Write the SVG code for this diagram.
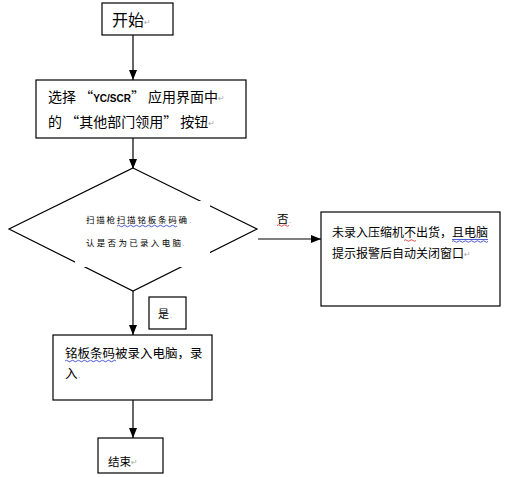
<svg xmlns="http://www.w3.org/2000/svg" width="510" height="477" viewBox="0 0 510 477">
<style>
.box{fill:#fff;stroke:#000;stroke-width:1.2}
.t{font-family:"Noto Sans CJK SC","Liberation Sans",sans-serif;fill:#000}
.pm{font-family:"DejaVu Sans",sans-serif;fill:#aaa;font-size:8px}
.edge{stroke:#000;stroke-width:1.2;fill:none}
.wr{stroke:#d22;stroke-width:0.8;fill:none}
.wb{stroke:#23c;stroke-width:0.8;fill:none}
</style>
<defs>
<marker id="ah" markerUnits="userSpaceOnUse" markerWidth="10" markerHeight="8" refX="10" refY="4" orient="auto">
<path d="M0,0 L10,4 L0,8 z" fill="#000"/>
</marker>
</defs>
<rect width="510" height="477" fill="#fff"/>
<g id="connectors">
<line class="edge" x1="133" y1="35" x2="133" y2="80" marker-end="url(#ah)"/>
<line class="edge" x1="133" y1="138" x2="133" y2="169" marker-end="url(#ah)"/>
<line class="edge" x1="258" y1="239" x2="321" y2="239" marker-end="url(#ah)"/>
<line class="edge" x1="133" y1="291" x2="133" y2="335" marker-end="url(#ah)"/>
<line class="edge" x1="133" y1="400" x2="133" y2="438" marker-end="url(#ah)"/>
</g>
<g id="start">
<rect class="box" x="102" y="3" width="71" height="32"/>
<text class="t" x="112" y="26" font-size="16">开始<tspan class="pm" dy="-1">↵</tspan></text>
</g>
<g id="select">
<rect class="box" x="36" y="80" width="210" height="58"/>
<text class="t" x="48" y="102" font-size="14">选择 “<tspan font-family="Liberation Sans,sans-serif" font-weight="bold" font-size="10">YC/SCR</tspan>” 应用界面中<tspan class="pm" dy="-1">↵</tspan></text>
<text class="t" x="48" y="127" font-size="14">的 “其他部门领用” 按钮<tspan class="pm" dy="-1">↵</tspan></text>
</g>
<g id="decision">
<polygon points="133,168 257,229 133,291 9,229" fill="#fff" stroke="#000" stroke-width="1.2"/>
<rect x="75" y="201" width="135" height="66" fill="#fff"/>
<text class="t" x="86" y="223" font-size="8.5" textLength="101" lengthAdjust="spacing">扫描枪扫描铭板条码确</text>
<text class="pm" x="189" y="223" font-size="5">.</text>
<text class="t" x="86" y="246" font-size="8.5" textLength="95" lengthAdjust="spacing">认是否为已录入电脑</text>
<text class="pm" x="182" y="246" font-size="5">.</text>
<path class="wb" d="M117,226 q1.5,-1.5 3,0 t3,0 t3,0 t3,0 t3,0 t3,0 t3,0 t3,0 t3,0 t3,0 t3,0 t3,0 t3,0 t3,0 t3,0 t3,0 t3,0 t3,0 t3,0 t3,0"/>
</g>
<g id="no-label">
<text class="t" x="277" y="223" font-size="11.5">否</text>
<text class="pm" x="289" y="223" font-size="5">.</text>
<path class="wr" d="M277,225.5 q1.5,-1.5 3,0 t3,0 t3,0 t3,0"/>
</g>
<g id="reject">
<rect class="box" x="321" y="212" width="179" height="94"/>
<text class="t" x="332" y="237" font-size="12">未录入压缩机不出货，且电脑</text>
<text class="t" x="332" y="258" font-size="12">提示报警后自动关闭窗口<tspan class="pm" dy="-1">↵</tspan></text>
<path class="wr" d="M404,240.5 q1.5,-1.5 3,0 t3,0 t3,0 t3,0"/>
<line class="wb" x1="452" y1="239.5" x2="488" y2="239.5"/>
<path class="wb" d="M452,241.5 q1.5,-1.5 3,0 t3,0 t3,0 t3,0 t3,0 t3,0 t3,0 t3,0 t3,0 t3,0 t3,0 t3,0"/>
</g>
<g id="yes-label">
<rect class="box" x="149" y="297" width="37" height="32"/>
<text class="t" x="158" y="318" font-size="11">是</text>
<text class="pm" x="170" y="318" font-size="5">.</text>
</g>
<g id="record">
<rect class="box" x="53" y="335" width="159" height="65"/>
<text class="t" x="65" y="358" font-size="12.5">铭板条码被录入电脑，录</text>
<text class="t" x="65" y="378" font-size="12.5">入</text>
<text class="pm" x="78" y="378" font-size="5">.</text>
<path class="wb" d="M65,361 q1.5,-1.5 3,0 t3,0 t3,0 t3,0 t3,0 t3,0 t3,0 t3,0 t3,0 t3,0 t3,0 t3,0 t3,0 t3,0 t3,0 t3,0 t3,0"/>
</g>
<g id="end">
<rect class="box" x="98" y="438" width="65" height="35"/>
<text class="t" x="108" y="466" font-size="11.5">结束<tspan class="pm" dy="-1">↵</tspan></text>
</g>
</svg>
